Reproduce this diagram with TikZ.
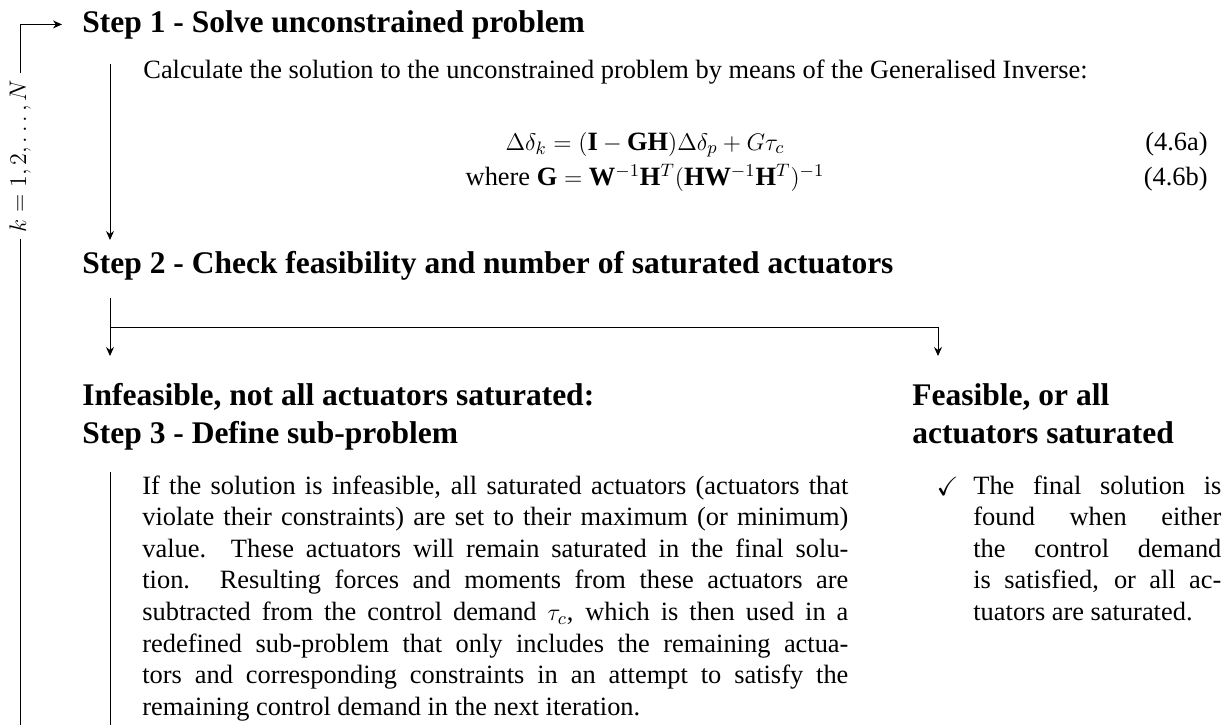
\documentclass[tikz,border=0pt]{standalone}
\usepackage{amsmath,amssymb}
\usepackage{fontspec}
\setmainfont{Liberation Serif}
\usetikzlibrary{arrows.meta,positioning}

\tikzset{
  heading/.style={font=\fontsize{15.75}{19}\selectfont\bfseries, inner sep=0pt, align=left},
  bodytext/.style={font=\fontsize{13.2}{15.8}\selectfont, inner sep=0pt},
  flow/.style={->, line width=0.5pt},
}

\begin{document}
\begin{tikzpicture}[x=0.5pt, y=-0.5pt, >={Stealth[length=4.5pt,width=4pt]}]
\useasboundingbox (0,0) rectangle (1232,725);

% headings
\node[heading, anchor=base west] (step1) at (82,32) {Step 1 - Solve unconstrained problem};
\node[heading, anchor=base west] (step2) at (82,273) {Step 2 - Check feasibility and number of saturated actuators};
\node[heading, anchor=north west] (infeas) at (82,383) {Infeasible, not all actuators saturated:\\Step 3 - Define sub-problem};
\node[heading, anchor=north west] (feas) at (912,383) {Feasible, or all\\actuators saturated};

% step 1 contents
\node[bodytext, anchor=base west] (calc) at (143,78) {Calculate the solution to the unconstrained problem by means of the Generalised Inverse:};
\node[bodytext, anchor=base] (eqa) at (645,150) {$\Delta\delta_k = (\mathbf{I}-\mathbf{G}\mathbf{H})\Delta\delta_p + G\tau_c$};
\node[bodytext, anchor=base] (eqb) at (645,185) {where $\mathbf{G} = \mathbf{W}^{-1}\mathbf{H}^T(\mathbf{H}\mathbf{W}^{-1}\mathbf{H}^T)^{-1}$};
\node[bodytext, anchor=base east] (numa) at (1208,150) {(4.6a)};
\node[bodytext, anchor=base east] (numb) at (1208,185) {(4.6b)};

% step 3 contents
\node[bodytext, anchor=north west, text width=353pt, align=justify] (para) at (142,475) {If the solution is infeasible, all saturated actuators (actuators that\linebreak
violate their constraints) are set to their maximum (or minimum)\linebreak
value.  These actuators will remain saturated in the final solu-\linebreak
tion.  Resulting forces and moments from these actuators are\linebreak
subtracted from the control demand $\tau_c$, which is then used in a\linebreak
redefined sub-problem that only includes the remaining actua-\linebreak
tors and corresponding constraints in an attempt to satisfy the\linebreak
remaining control demand in the next iteration.};

\node[bodytext, anchor=north west, text width=124pt, align=justify] (final) at (973,475) {The final solution is\linebreak
found when either\linebreak
the control demand\linebreak
is satisfied, or all ac-\linebreak
tuators are saturated.};
\node[bodytext, anchor=north east] (tick) at ([xshift=-7pt,yshift=-1pt]final.north west) {$\checkmark$};

% iteration loop
\node[bodytext, rotate=90, inner sep=3pt] (iter) at (20,156) {$k=1,2,\ldots,N$};
\coordinate (loopend) at (20,725);
\draw[flow, shorten >=10pt] (iter.east) |- (step1.west);
\draw[line width=0.5pt] (iter.west) -- (loopend);

% step 1 and step 2 arrows
\coordinate (s1top) at (110,64);
\coordinate (s1end) at (110,240);
\draw[flow] (s1top) -- (s1end);
\coordinate (s2top) at (110,298);
\coordinate (fork) at (110,327);
\coordinate (leftend) at (110,356);
\coordinate (rightend) at (938,356);
\draw[flow] (s2top) -- (leftend);
\draw[flow] (fork) -| (rightend);

% paragraph bar
\coordinate (bartop) at (110,472);
\coordinate (barend) at (110,725);
\draw[line width=0.5pt] (bartop) -- (barend);
\end{tikzpicture}
\end{document}
